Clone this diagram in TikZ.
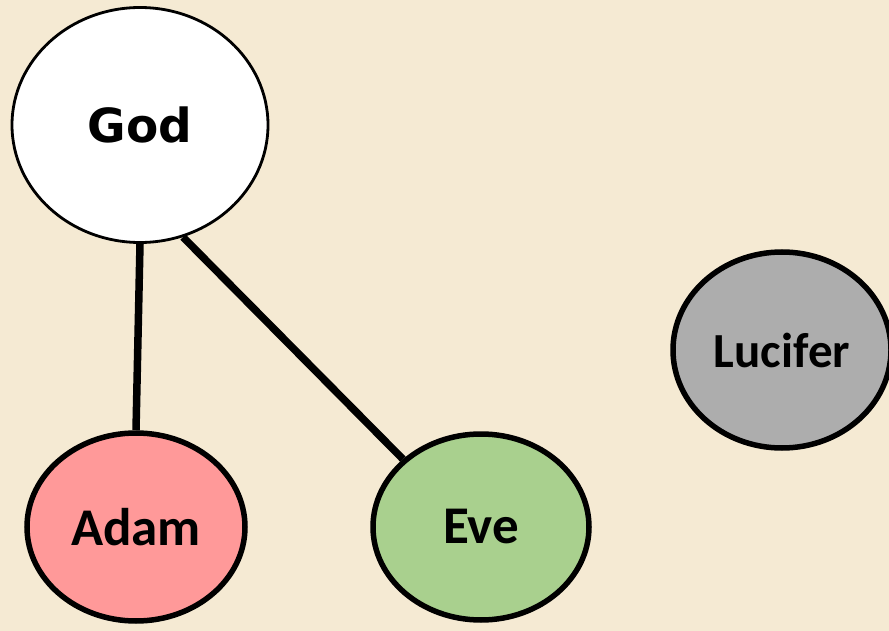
\documentclass[tikz,border=0pt]{standalone}
\usepackage{fontspec}
\setmainfont{Carlito}
\newfontfamily\godfont{DejaVu Sans}
\usetikzlibrary{shapes.geometric}

\definecolor{paper}{HTML}{F5EAD3}
\definecolor{adamred}{HTML}{FF9999}
\definecolor{evegreen}{HTML}{A9D08E}
\definecolor{lucgray}{HTML}{ADADAD}

\begin{document}
\begin{tikzpicture}[x=1pt, y=-1pt,
    person/.style={ellipse, draw=black, line width=5.5pt, inner sep=0pt,
        font=\fontsize{53}{53}\selectfont\bfseries},
    link/.style={line width=7.5pt, black}]
    % background, same size as the reference
    \fill[paper] (0,0) rectangle (889,631);
    \useasboundingbox (0,0) rectangle (889,631);

    \node[person, fill=white, line width=2.8pt, minimum width=256pt, minimum height=235pt,
        font=\godfont\fontsize{47}{47}\selectfont\bfseries] (god) at (140,125) {God};
    \node[person, fill=adamred, minimum width=218pt, minimum height=188pt] (adam) at (136,527) {Adam};
    \node[person, fill=evegreen, minimum width=216pt, minimum height=186pt] (eve) at (481,527) {Eve};
    \node[person, fill=lucgray, minimum width=218pt, minimum height=196pt,
        font=\fontsize{49}{49}\selectfont\bfseries] (lucifer) at (782,350) {Lucifer};

    % links from God
    \draw[link] (god.south) -- (adam.north);
    \draw[link] (god.-69) -- (eve.139);
\end{tikzpicture}
\end{document}
